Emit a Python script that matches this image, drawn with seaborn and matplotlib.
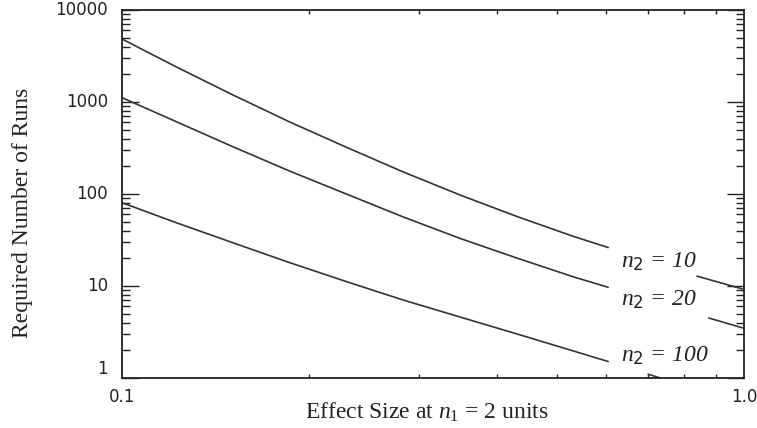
import matplotlib
matplotlib.use("Agg")
import matplotlib.pyplot as plt
import matplotlib.ticker as mticker
import seaborn as sns
import pandas as pd

# effect size (x) sampled along each curve
effect = [0.1, 0.1226, 0.1508, 0.1862, 0.2300, 0.2830, 0.3495, 0.4315, 0.5311, 0.6046]
runs_n10 = [4840, 2384, 1192, 605, 320, 174, 97.5, 56.9, 34.7, 26.2]
runs_n20 = [1114, 606, 326, 177, 99.3, 56.4, 32.9, 20.1, 12.6, 9.68]
runs_n100 = [80.4, 48.4, 29.5, 17.9, 11.1, 7.05, 4.60, 3.01, 1.97, 1.51]

# short pieces of each curve to the right of its label
tail_x_n10 = [0.840, 0.993]
tail_y_n10 = [12.8, 9.3]
tail_x_n20 = [0.8775, 0.995]
tail_y_n20 = [4.49, 3.5]
tail_x_n100 = [0.701, 0.733, 0.76]
tail_y_n100 = [1.10, 1.0, 0.93]

labels = [r"$n_{\mathsf{2}}$ = 10", r"$n_{\mathsf{2}}$ = 20", r"$n_{\mathsf{2}}$ = 100"]

sns.set_style("ticks")
plt.rcParams["mathtext.fontset"] = "custom"
plt.rcParams["mathtext.it"] = "Liberation Serif:italic"
plt.rcParams["mathtext.rm"] = "Liberation Serif"
plt.rcParams["mathtext.sf"] = "DejaVu Sans"

fig = plt.figure(figsize=(7.57, 4.28), dpi=100)
ax = fig.add_axes([0.1612, 0.1168, 0.8218, 0.8598])

line_kw = dict(color="#333333", linewidth=1.2, sort=False)
for xs, ys in [(effect, runs_n10), (effect, runs_n20), (effect, runs_n100),
               (tail_x_n10, tail_y_n10), (tail_x_n20, tail_y_n20),
               (tail_x_n100, tail_y_n100)]:
    df = pd.DataFrame({"x": xs, "y": ys})
    sns.lineplot(data=df, x="x", y="y", ax=ax, **line_kw)

ax.set_xscale("log")
ax.set_yscale("log")
ax.set_xlim(0.1, 1.0)
ax.set_ylim(1, 10000)

ax.xaxis.set_major_locator(mticker.FixedLocator([0.1, 1.0]))
ax.xaxis.set_major_formatter(mticker.FixedFormatter(["0.1", "1.0"]))
ax.xaxis.set_minor_locator(mticker.LogLocator(base=10, subs=range(2, 10)))
ax.xaxis.set_minor_formatter(mticker.NullFormatter())
ax.yaxis.set_major_locator(mticker.FixedLocator([1, 10, 100, 1000, 10000]))
ax.yaxis.set_major_formatter(mticker.FixedFormatter(["1", "10", "100", "1000", "10000"]))
ax.yaxis.set_minor_locator(mticker.LogLocator(base=10, subs=range(2, 10)))
ax.yaxis.set_minor_formatter(mticker.NullFormatter())

ax.tick_params(axis="both", which="both", direction="in", top=True, right=True,
               colors="#222222", width=1.0)
ax.tick_params(axis="y", which="major", length=12, labelsize=12, pad=10)
ax.tick_params(axis="y", which="minor", length=6)
ax.tick_params(axis="x", which="major", length=0, labelsize=12, pad=7)
ax.tick_params(axis="x", which="minor", length=3)
for lab in ax.get_yticklabels():
    lab.set_verticalalignment("center")
ax.get_yticklabels()[0].set_verticalalignment("bottom")

for sp in ax.spines.values():
    sp.set_linewidth(1.3)
    sp.set_color("#222222")

ax.set_xlabel(r"Effect Size at $n_{\mathit{1}}$ = $\mathit{2}$ units",
              fontfamily="Liberation Serif", fontsize=17, color="#222222")
ax.set_ylabel("Required Number of Runs", fontfamily="Liberation Serif",
              fontsize=17, color="#222222")
ax.xaxis.label.set_verticalalignment("baseline")
ax.xaxis.set_label_coords(0.49, -0.110)
ax.yaxis.set_label_coords(-0.143, 0.45)

for lab, yf in zip(labels, [0.315, 0.212, 0.060]):
    ax.text(0.802, yf, lab, transform=ax.transAxes, fontsize=17, va="center",
            ha="left", color="#222222", fontfamily="Liberation Serif",
            fontstyle="italic")

fig.savefig("out.png", dpi=100)
